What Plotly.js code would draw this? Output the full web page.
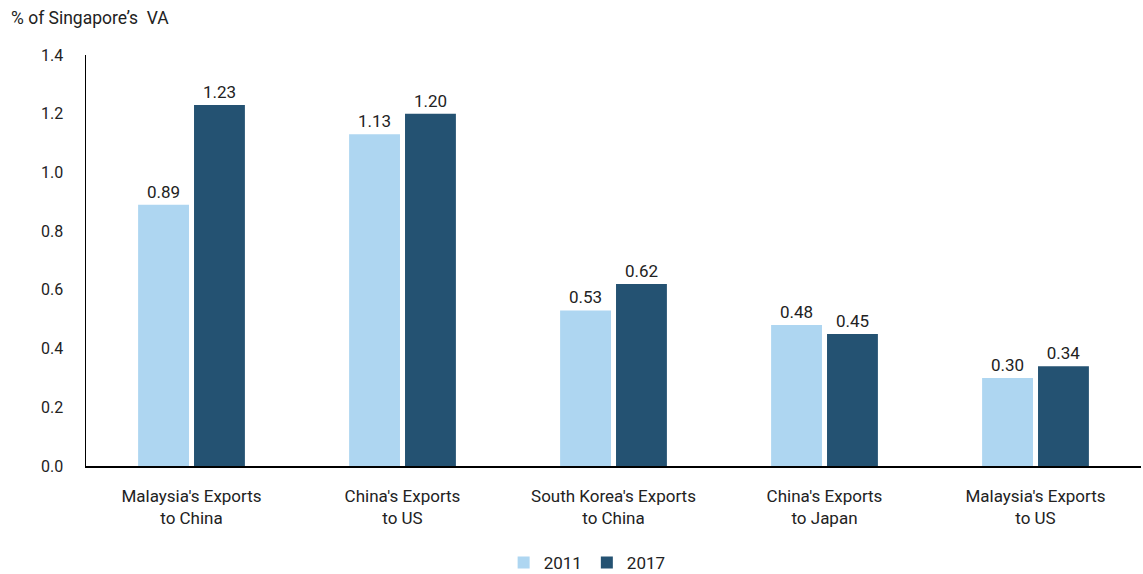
<!DOCTYPE html>
<html><head><meta charset="utf-8">
<script src="https://cdn.plot.ly/plotly-3.0.1.min.js"></script>
<style>html,body{margin:0;padding:0;background:#fff}#chart{width:1143px;height:574px}</style>
</head><body><div id="chart"></div>
<script>
const categories = ["Malaysia's Exports<br>to China", "China's Exports<br>to US", "South Korea's Exports<br>to China", "China's Exports<br>to Japan", "Malaysia's Exports<br>to US"];
const series2011 = [0.89, 1.13, 0.53, 0.48, 0.30];
const series2017 = [1.23, 1.20, 0.62, 0.45, 0.34];
const yTicks = [0, 0.2, 0.4, 0.6, 0.8, 1.0, 1.2, 1.4];

const fam = 'Roboto, "DejaVu Sans Condensed", sans-serif';
const font = {family: fam, size: 16, color: '#222'};
const bigFont = {family: fam, size: 17, color: '#222'};
const traces = [
  {type: 'bar', name: '2011', x: categories, y: series2011, marker: {color: '#AED6F1'},
   text: series2011.map(v => v.toFixed(2)), textposition: 'outside', cliponaxis: false,
   textfont: bigFont, hoverinfo: 'skip'},
  {type: 'bar', name: '2017', x: categories, y: series2017, marker: {color: '#245272'},
   text: series2017.map(v => v.toFixed(2)), textposition: 'outside', cliponaxis: false,
   textfont: bigFont, hoverinfo: 'skip'}
];
const layout = {
  width: 1143, height: 574,
  margin: {l: 86, r: 2, t: 55, b: 108, autoexpand: false},
  font: font,
  barmode: 'group', bargap: 0.47, bargroupgap: 0.09,
  paper_bgcolor: '#fff', plot_bgcolor: '#fff',
  showlegend: true,
  legend: {orientation: 'h', x: 0.475, xanchor: 'center', y: -0.236, yanchor: 'middle', font: bigFont, traceorder: 'normal'},
  xaxis: {showline: true, linecolor: '#000', linewidth: 1.5, ticks: '', showgrid: false, tickfont: bigFont, zeroline: false, ticklabelstandoff: 14},
  yaxis: {range: [0, 1.4], tickvals: yTicks, tickformat: '.1f', showline: true, linecolor: '#000', linewidth: 1.5,
          ticks: '', showgrid: false, zeroline: false, tickfont: font, ticklabelstandoff: 18},
  annotations: [{text: "% of Singapore’s  VA", xref: 'paper', yref: 'paper', x: -86/1055, y: 1, xshift: 9, yshift: 37,
    xanchor: 'left', yanchor: 'middle', showarrow: false, font: {family: fam, size: 17.5, color: '#222'}}]
};
Plotly.newPlot('chart', traces, layout, {displayModeBar: false, staticPlot: true});
</script></body></html>
